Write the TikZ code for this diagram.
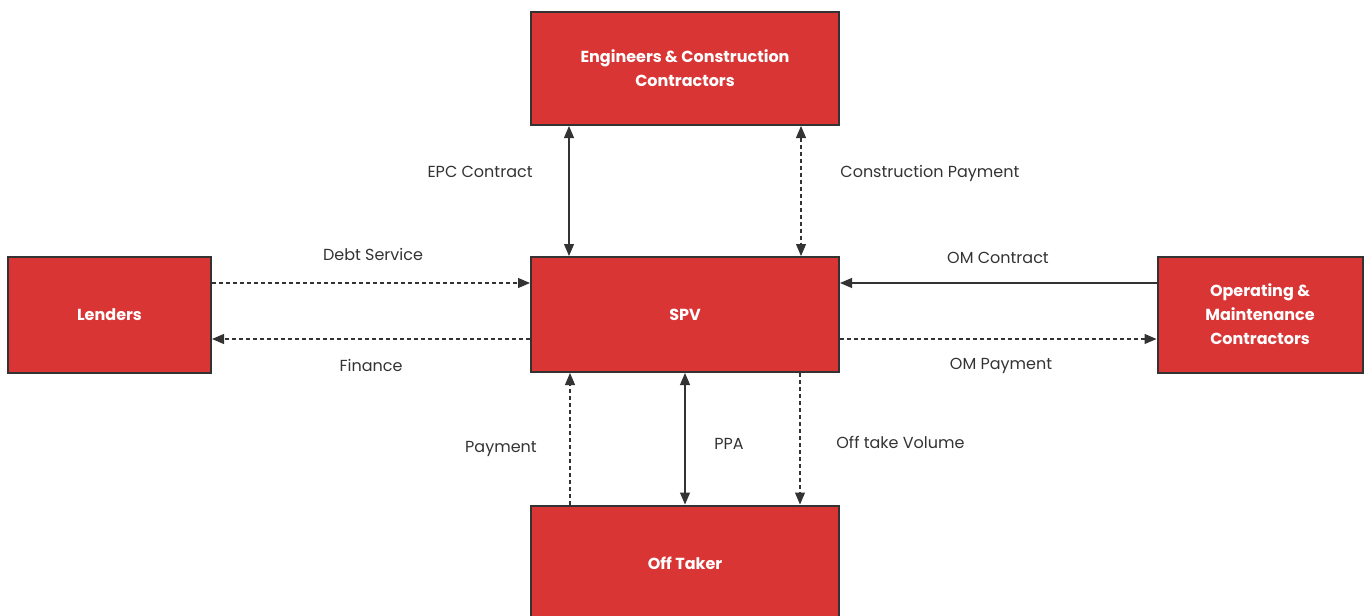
\documentclass[tikz,border=0pt]{standalone}
\usepackage{fontspec}
\setmainfont{Poppins}
\usetikzlibrary{arrows.meta}
\definecolor{boxred}{HTML}{D93535}
\definecolor{linegray}{HTML}{333333}
\tikzstyle{party} = [rectangle, fill=boxred, draw=linegray, line width=1pt, text=white, font=\fontsize{8}{12}\selectfont\bfseries, align=center, inner sep=0pt]
\tikzstyle{flowlabel} = [font=\fontsize{8}{10}\selectfont, text=linegray, inner sep=0pt]
\tikzstyle{arrow} = [linegray, line width=0.55pt, -{Triangle[length=6pt,width=5pt]}]
\tikzstyle{both} = [arrow, {Triangle[length=6pt,width=5pt]}-{Triangle[length=6pt,width=5pt]}]
\tikzstyle{money} = [dash pattern=on 2pt off 1.5pt]

\begin{document}
\begin{tikzpicture}[x=0.5pt, y=-0.5pt]

    \useasboundingbox (0,0) rectangle (1368,615);

    \node (epc) [party, minimum width=154pt, minimum height=56.5pt] at (685,68.5) {Engineers \& Construction\\Contractors};
    \node (spv) [party, minimum width=154pt, minimum height=57.5pt] at (685,314.5) {SPV};
    \node (lenders) [party, minimum width=101.5pt, minimum height=58pt] at (109.5,314.5) {Lenders};
    \node (om) [party, minimum width=102.5pt, minimum height=58pt] at (1260,314.5) {Operating \&\\Maintenance\\Contractors};
    \node (offtaker) [party, minimum width=154pt, minimum height=57.5pt] at (685,563) {Off Taker};

    \node (epclbl) [flowlabel, anchor=east] at (533,172) {EPC Contract};
    \node (cplbl) [flowlabel, anchor=west] at (840,173) {Construction Payment};
    \node (debtlbl) [flowlabel] at (373,254) {Debt Service};
    \node (finlbl) [flowlabel] at (371,365) {Finance};
    \node (omclbl) [flowlabel] at (998,258) {OM Contract};
    \node (omplbl) [flowlabel] at (1001,366) {OM Payment};
    \node (paylbl) [flowlabel] at (501,449) {Payment};
    \node (ppalbl) [flowlabel, anchor=west] at (714,444) {PPA};
    \node (otvlbl) [flowlabel, anchor=west] at (836,442) {Off take Volume};

    \draw [both] ([xshift=-58pt]epc.south) -- ([xshift=-58pt]spv.north);
    \draw [both, money] ([xshift=58pt]epc.south) -- ([xshift=58pt]spv.north);
    \draw [arrow, money] ([yshift=15.75pt]lenders.east) -- ([yshift=15.75pt]spv.west);
    \draw [arrow, money] ([yshift=-12.25pt]spv.west) -- ([yshift=-12.25pt]lenders.east);
    \draw [arrow] ([yshift=15.75pt]om.west) -- ([yshift=15.75pt]spv.east);
    \draw [arrow, money] ([yshift=-12.25pt]spv.east) -- ([yshift=-12.25pt]om.west);
    \draw [arrow, money] ([xshift=-57.5pt]offtaker.north) -- ([xshift=-57.5pt]spv.south);
    \draw [both] (offtaker) -- (spv);
    \draw [arrow, money] ([xshift=57.5pt]spv.south) -- ([xshift=57.5pt]offtaker.north);

\end{tikzpicture}
\end{document}
